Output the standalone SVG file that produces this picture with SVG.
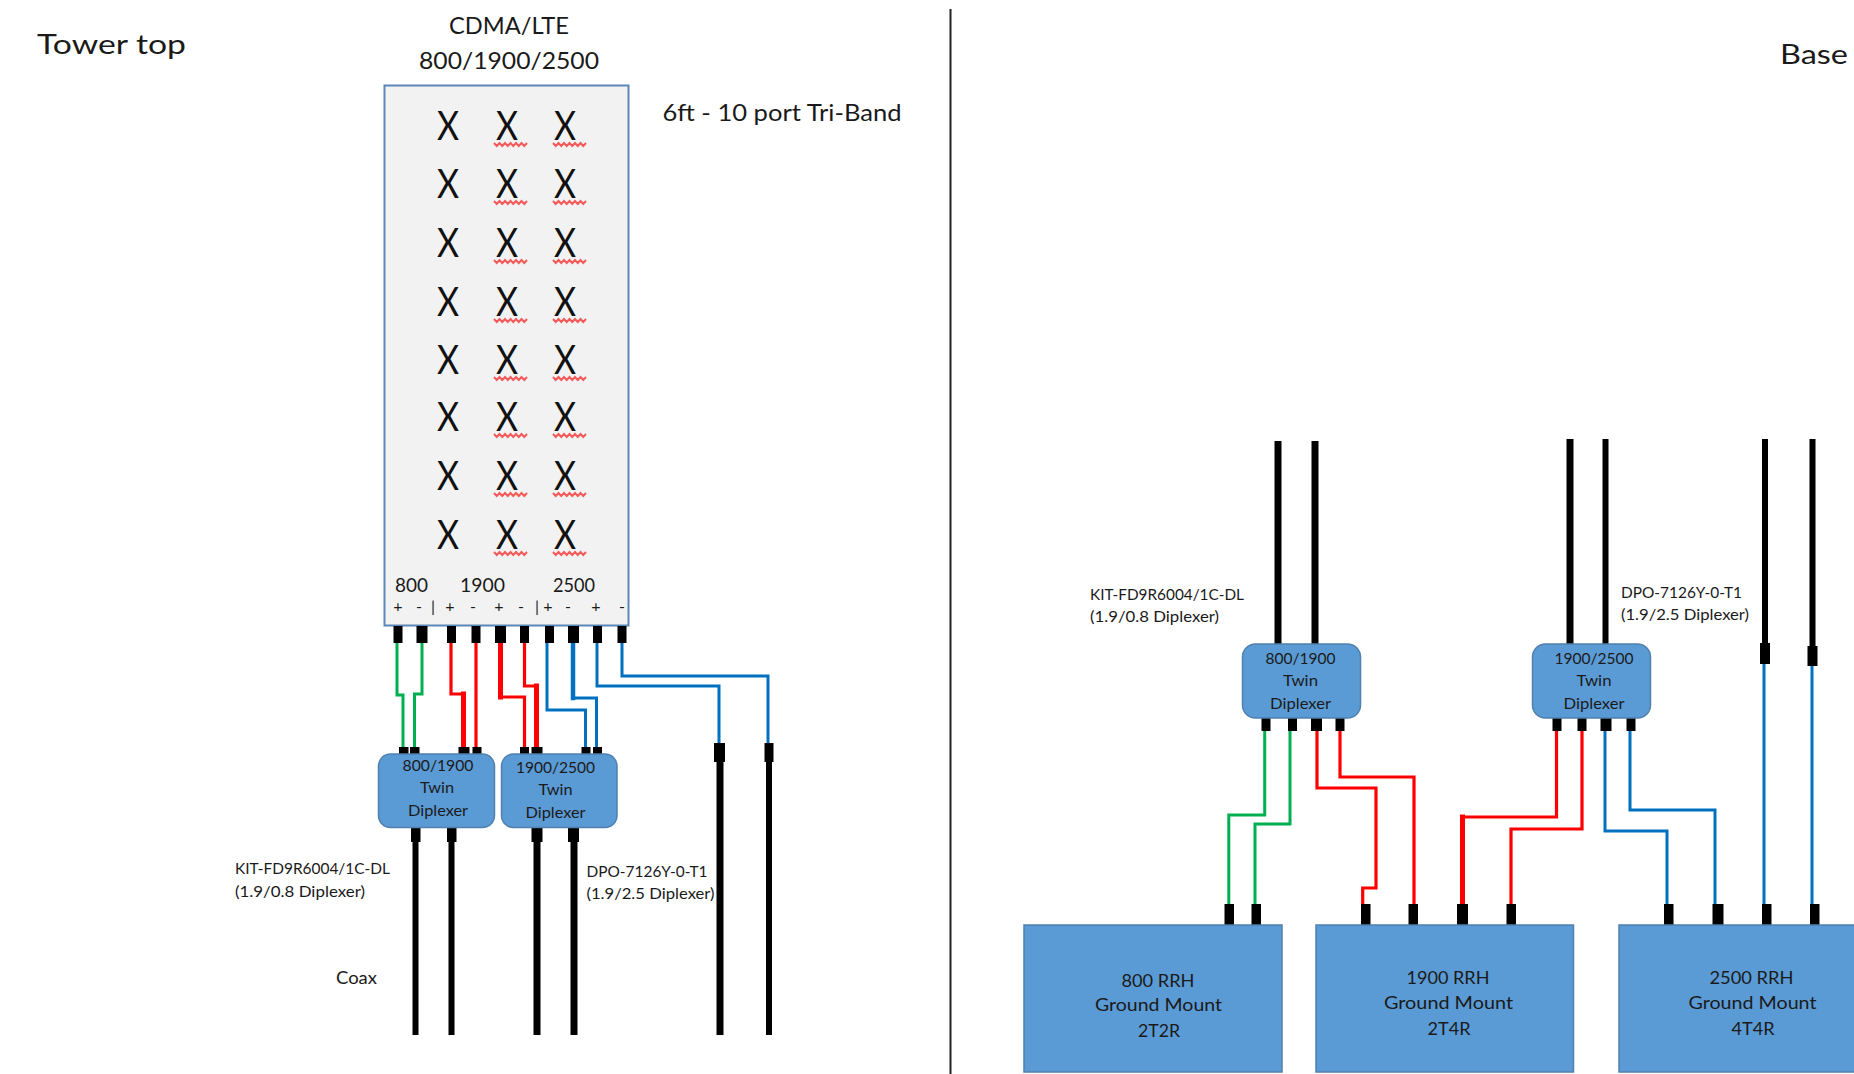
<svg xmlns="http://www.w3.org/2000/svg" xmlns:xlink="http://www.w3.org/1999/xlink" width="1854" height="1074" viewBox="0 0 1854 1074">
<style>
text{font-family:Lato,"Liberation Sans",sans-serif;fill:#1a1a1a}
.m{text-anchor:middle}
.t24{font-size:24px}.t27{font-size:27px}.t19{font-size:19px}.t16{font-size:16px}.t15{font-size:15px}.t17{font-size:17px}.t18{font-size:18px}
.x{font-size:40px;text-anchor:middle;fill:#111}
.w{fill:none;stroke-linecap:square}
.g{stroke:#00B050;stroke-width:3}
.r{stroke:#FF0000;stroke-width:3.2}
.rb{stroke:#FF0000;stroke-width:5}
.b{stroke:#0070C0;stroke-width:3}
.bb{stroke:#0070C0;stroke-width:4.5}
.k{stroke:#000;stroke-width:6;stroke-linecap:butt}
.kb{stroke:#000;stroke-width:7;stroke-linecap:butt}
.p{fill:#000}
.box{fill:#5B9BD5;stroke:#5080AE;stroke-width:1.5}
.sq{fill:none;stroke:#F45A5A;stroke-width:2}
</style>
<defs>
<path id="sq" class="sq" d="M0 0l2.75 3 2.75-3 2.75 3 2.750-3 2.750 3 2.750-3 2.750 3 2.750-3 2.750 3 2.750-3 2.750 3 2.750-3"/>
</defs>
<g id="divider"><line x1="950.5" y1="9" x2="950.5" y2="1074" stroke="#222" stroke-width="2"/></g>
<g id="headings">
<text x="37" y="54" class="t27" textLength="149" lengthAdjust="spacingAndGlyphs">Tower top</text>
<text x="1780" y="64" class="t27" textLength="68" lengthAdjust="spacingAndGlyphs">Base</text>
<text x="449" y="34" class="t24" textLength="120" lengthAdjust="spacingAndGlyphs">CDMA/LTE</text>
<text x="419" y="69" class="t24" textLength="180" lengthAdjust="spacingAndGlyphs">800/1900/2500</text>
<text x="662.5" y="121" class="t24" textLength="239" lengthAdjust="spacingAndGlyphs">6ft - 10 port Tri-Band</text>
<text x="336" y="984" class="t17" textLength="41" lengthAdjust="spacingAndGlyphs">Coax</text>
<text x="235" y="874" class="t15" textLength="155" lengthAdjust="spacingAndGlyphs">KIT-FD9R6004/1C-DL</text>
<text x="235" y="897" class="t15" textLength="130" lengthAdjust="spacingAndGlyphs">(1.9/0.8 Diplexer)</text>
<text x="586.5" y="877" class="t15" textLength="121" lengthAdjust="spacingAndGlyphs">DPO-7126Y-0-T1</text>
<text x="586.5" y="899" class="t15" textLength="128" lengthAdjust="spacingAndGlyphs">(1.9/2.5 Diplexer)</text>
<text x="1090" y="600" class="t15" textLength="154" lengthAdjust="spacingAndGlyphs">KIT-FD9R6004/1C-DL</text>
<text x="1090" y="622" class="t15" textLength="129" lengthAdjust="spacingAndGlyphs">(1.9/0.8 Diplexer)</text>
<text x="1621" y="598" class="t15" textLength="121" lengthAdjust="spacingAndGlyphs">DPO-7126Y-0-T1</text>
<text x="1621" y="620" class="t15" textLength="128" lengthAdjust="spacingAndGlyphs">(1.9/2.5 Diplexer)</text>
</g>
<g id="antenna">
<rect x="384.5" y="85.5" width="244" height="540" fill="#F2F2F2" stroke="#5B87B8" stroke-width="2"/>
<g id="antenna-elements" transform="translate(0 1) scale(.85 1)">
<text class="x" x="527" y="139">X</text><text class="x" x="596.5" y="139">X</text><text class="x" x="664.700" y="139">X</text>
<text class="x" x="527" y="197">X</text><text class="x" x="596.5" y="197">X</text><text class="x" x="664.700" y="197">X</text>
<text class="x" x="527" y="256">X</text><text class="x" x="596.5" y="256">X</text><text class="x" x="664.700" y="256">X</text>
<text class="x" x="527" y="315">X</text><text class="x" x="596.5" y="315">X</text><text class="x" x="664.700" y="315">X</text>
<text class="x" x="527" y="373">X</text><text class="x" x="596.5" y="373">X</text><text class="x" x="664.700" y="373">X</text>
<text class="x" x="527" y="430">X</text><text class="x" x="596.5" y="430">X</text><text class="x" x="664.700" y="430">X</text>
<text class="x" x="527" y="489">X</text><text class="x" x="596.5" y="489">X</text><text class="x" x="664.700" y="489">X</text>
<text class="x" x="527" y="548">X</text><text class="x" x="596.5" y="548">X</text><text class="x" x="664.700" y="548">X</text>
</g>
<g id="spell-marks">
<use xlink:href="#sq" href="#sq" x="494" y="143"/><use xlink:href="#sq" href="#sq" x="553" y="143"/>
<use xlink:href="#sq" href="#sq" x="494" y="201"/><use xlink:href="#sq" href="#sq" x="553" y="201"/>
<use xlink:href="#sq" href="#sq" x="494" y="260"/><use xlink:href="#sq" href="#sq" x="553" y="260"/>
<use xlink:href="#sq" href="#sq" x="494" y="319"/><use xlink:href="#sq" href="#sq" x="553" y="319"/>
<use xlink:href="#sq" href="#sq" x="494" y="377"/><use xlink:href="#sq" href="#sq" x="553" y="377"/>
<use xlink:href="#sq" href="#sq" x="494" y="434"/><use xlink:href="#sq" href="#sq" x="553" y="434"/>
<use xlink:href="#sq" href="#sq" x="494" y="493"/><use xlink:href="#sq" href="#sq" x="553" y="493"/>
<use xlink:href="#sq" href="#sq" x="494" y="552"/><use xlink:href="#sq" href="#sq" x="553" y="552"/>
</g>
<text x="395" y="592" class="t19" textLength="33" lengthAdjust="spacingAndGlyphs">800</text>
<text x="460" y="592" class="t19" textLength="45" lengthAdjust="spacingAndGlyphs">1900</text>
<text x="553" y="592" class="t19" textLength="42" lengthAdjust="spacingAndGlyphs">2500</text>
<g class="t16">
<text class="m" x="398" y="612">+</text><text class="m" x="419" y="612">-</text><text class="m" x="433" y="612">|</text>
<text class="m" x="450" y="612">+</text><text class="m" x="473" y="612">-</text>
<text class="m" x="499" y="612">+</text><text class="m" x="521" y="612">-</text><text class="m" x="537" y="612">|</text>
<text class="m" x="548" y="612">+</text><text class="m" x="568" y="612">-</text>
<text class="m" x="596" y="612">+</text><text class="m" x="622" y="612">-</text>
</g>
</g>
<g id="connectors">
<path class="w g" d="M397 643V695H403V747"/>
<path class="w g" d="M422 643V694H414.500V747"/>
<path class="w r" d="M451 643V694H463.500"/>
<path class="w rb" d="M463.500 694V747"/>
<path class="w r" d="M476 643V747"/>
<path class="w rb" d="M500.500 643V697"/>
<path class="w r" d="M500.500 697H524.500V747"/>
<path class="w r" d="M524.500 643V686H536.500"/>
<path class="w rb" d="M536.500 686V747"/>
<path class="w b" d="M547 643V710H585.500V747"/>
<path class="w bb" d="M573 643V698"/>
<path class="w b" d="M573 698H596.500V747"/>
<path class="w b" d="M597 643V686H719V743"/>
<path class="w b" d="M622 643V676H768V743"/>
<line class="w k" x1="415.500" y1="842" x2="415.500" y2="1035"/>
<line class="w k" x1="451.500" y1="842" x2="451.500" y2="1035"/>
<line class="w kb" x1="537" y1="842" x2="537" y2="1035"/>
<line class="w kb" x1="574" y1="842" x2="574" y2="1035"/>
<line class="w kb" x1="720" y1="762" x2="720" y2="1035"/>
<line class="w k" x1="769" y1="762" x2="769" y2="1035"/>
<line class="w kb" x1="1278" y1="441" x2="1278" y2="644"/>
<line class="w kb" x1="1315" y1="441" x2="1315" y2="644"/>
<line class="w kb" x1="1570" y1="439" x2="1570" y2="644"/>
<line class="w k" x1="1605.500" y1="439" x2="1605.500" y2="644"/>
<line class="w k" x1="1765" y1="439" x2="1765" y2="643"/>
<line class="w k" x1="1812.500" y1="439" x2="1812.500" y2="646"/>
<path class="w b" d="M1764 664V904"/>
<path class="w b" d="M1812 666V904"/>
<path class="w g" d="M1264.700 731V815H1228.800V904"/>
<path class="w g" d="M1290 731V824H1255V904"/>
<path class="w r" d="M1317 731V788H1376V888H1362.700V904"/>
<path class="w r" d="M1340 731V777H1414V904"/>
<path class="w r" d="M1556.500 731V817H1462.500"/>
<path class="w rb" d="M1462.500 817V904"/>
<path class="w r" d="M1582 731V829H1511V904"/>
<path class="w b" d="M1605 731V831H1667V904"/>
<path class="w b" d="M1630 731V810H1715V904"/>
<g id="plugs">
<rect class="p" x="393.500" y="626" width="9" height="17"/><rect class="p" x="416.500" y="626" width="11" height="17"/>
<rect class="p" x="447" y="626" width="9" height="17"/><rect class="p" x="471.500" y="626" width="9" height="17"/>
<rect class="p" x="495" y="626" width="11" height="17"/><rect class="p" x="520" y="626" width="9" height="17"/>
<rect class="p" x="545" y="626" width="9" height="17"/><rect class="p" x="568" y="626" width="11" height="17"/>
<rect class="p" x="593" y="626" width="9" height="17"/><rect class="p" x="617.500" y="626" width="9" height="17"/>
<rect class="p" x="399" y="747" width="9.500" height="7"/><rect class="p" x="410" y="747" width="9.500" height="7"/>
<rect class="p" x="458.500" y="747" width="11" height="7"/><rect class="p" x="472.500" y="747" width="9" height="7"/>
<rect class="p" x="520" y="747" width="9" height="7"/><rect class="p" x="531.500" y="747" width="11" height="7"/>
<rect class="p" x="581.500" y="747" width="9" height="7"/><rect class="p" x="593" y="747" width="9" height="7"/>
<rect class="p" x="714" y="743" width="11" height="19"/><rect class="p" x="764.500" y="743" width="9" height="19"/>
<rect class="p" x="411" y="828" width="9.500" height="14"/><rect class="p" x="447" y="828" width="9.500" height="14"/>
<rect class="p" x="531.500" y="828" width="11" height="14"/><rect class="p" x="568" y="828" width="11" height="14"/>
<rect class="p" x="1760" y="643" width="10" height="21"/><rect class="p" x="1807.500" y="646" width="10" height="20"/>
<rect class="p" x="1261.500" y="718" width="9" height="13"/><rect class="p" x="1288" y="718" width="9" height="13"/>
<rect class="p" x="1311" y="718" width="11" height="13"/><rect class="p" x="1335.500" y="718" width="9" height="13"/>
<rect class="p" x="1552.500" y="718" width="9" height="13"/><rect class="p" x="1577.500" y="718" width="9" height="13"/>
<rect class="p" x="1600.500" y="718" width="11" height="13"/><rect class="p" x="1626.500" y="718" width="9" height="13"/>
<rect class="p" x="1224.500" y="904" width="9.500" height="21"/><rect class="p" x="1251.500" y="904" width="9.500" height="21"/>
<rect class="p" x="1361" y="904" width="9.500" height="21"/><rect class="p" x="1408.500" y="904" width="9.500" height="21"/>
<rect class="p" x="1457" y="904" width="11" height="21"/><rect class="p" x="1506.500" y="904" width="9.500" height="21"/>
<rect class="p" x="1664" y="904" width="9.500" height="21"/><rect class="p" x="1712.500" y="904" width="11" height="21"/>
<rect class="p" x="1762" y="904" width="9.500" height="21"/><rect class="p" x="1810" y="904" width="9.500" height="21"/>
</g>
</g>
<g id="diplexer-tower-1">
<rect class="box" x="378.500" y="754" width="116" height="73.500" rx="12"/>
<text class="m t16" x="438" y="771" textLength="71" lengthAdjust="spacingAndGlyphs">800/1900</text>
<text class="m t16" x="437" y="793" textLength="34" lengthAdjust="spacingAndGlyphs">Twin</text>
<text class="m t16" x="438" y="816" textLength="60" lengthAdjust="spacingAndGlyphs">Diplexer</text>
</g>
<g id="diplexer-tower-2">
<rect class="box" x="501.500" y="754" width="115.500" height="73.500" rx="12"/>
<text class="m t16" x="555.500" y="773" textLength="79" lengthAdjust="spacingAndGlyphs">1900/2500</text>
<text class="m t16" x="555.500" y="795" textLength="34" lengthAdjust="spacingAndGlyphs">Twin</text>
<text class="m t16" x="555.500" y="818" textLength="60" lengthAdjust="spacingAndGlyphs">Diplexer</text>
</g>
<g id="diplexer-base-1">
<rect class="box" x="1242.500" y="644" width="118" height="74" rx="13"/>
<text class="m t16" x="1300.500" y="664" textLength="70" lengthAdjust="spacingAndGlyphs">800/1900</text>
<text class="m t16" x="1300.500" y="686" textLength="35" lengthAdjust="spacingAndGlyphs">Twin</text>
<text class="m t16" x="1300.500" y="709" textLength="61" lengthAdjust="spacingAndGlyphs">Diplexer</text>
</g>
<g id="diplexer-base-2">
<rect class="box" x="1532.500" y="644" width="118" height="74" rx="13"/>
<text class="m t16" x="1594" y="664" textLength="79" lengthAdjust="spacingAndGlyphs">1900/2500</text>
<text class="m t16" x="1594" y="686" textLength="35" lengthAdjust="spacingAndGlyphs">Twin</text>
<text class="m t16" x="1594" y="709" textLength="61" lengthAdjust="spacingAndGlyphs">Diplexer</text>
</g>
<g id="rrh-800">
<rect class="box" x="1024" y="925" width="258" height="147"/>
<text class="m t18" x="1158" y="987" textLength="73" lengthAdjust="spacingAndGlyphs">800 RRH</text>
<text class="m t18" x="1158.500" y="1011" textLength="127" lengthAdjust="spacingAndGlyphs">Ground Mount</text>
<text class="m t18" x="1159" y="1037" textLength="42" lengthAdjust="spacingAndGlyphs">2T2R</text>
</g>
<g id="rrh-1900">
<rect class="box" x="1316" y="925" width="257.500" height="147"/>
<text class="m t18" x="1448" y="984" textLength="83" lengthAdjust="spacingAndGlyphs">1900 RRH</text>
<text class="m t18" x="1448.500" y="1009" textLength="129" lengthAdjust="spacingAndGlyphs">Ground Mount</text>
<text class="m t18" x="1449" y="1035" textLength="43" lengthAdjust="spacingAndGlyphs">2T4R</text>
</g>
<g id="rrh-2500">
<rect class="box" x="1619" y="925" width="245" height="147"/>
<text class="m t18" x="1751.500" y="984" textLength="84" lengthAdjust="spacingAndGlyphs">2500 RRH</text>
<text class="m t18" x="1752.500" y="1009" textLength="128" lengthAdjust="spacingAndGlyphs">Ground Mount</text>
<text class="m t18" x="1753" y="1035" textLength="43" lengthAdjust="spacingAndGlyphs">4T4R</text>
</g>
</svg>
